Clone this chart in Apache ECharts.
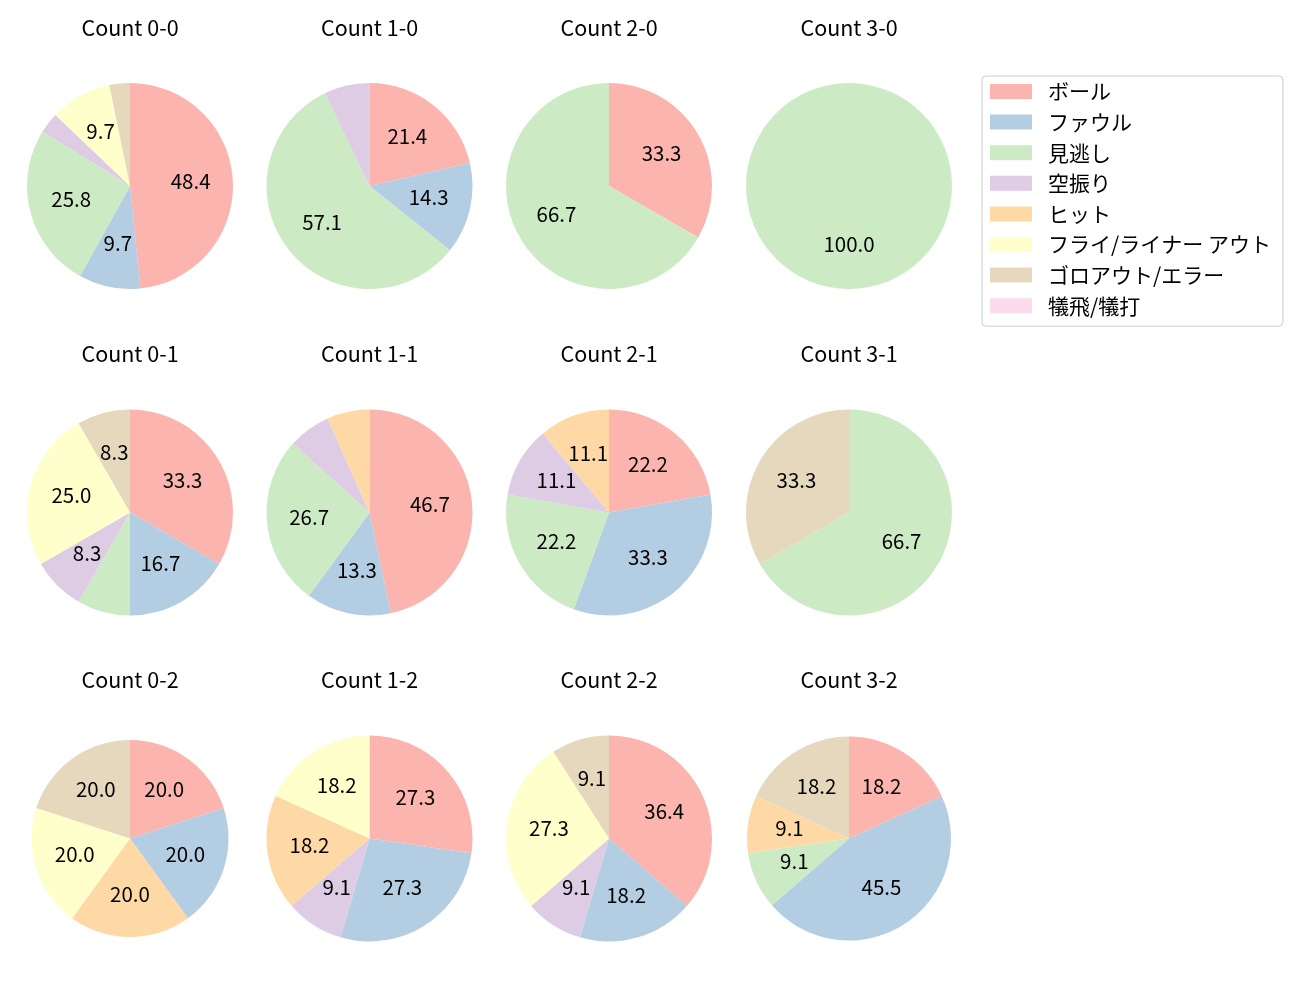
<!DOCTYPE html>
<html>
<head>
<meta charset="utf-8">
<script src="https://cdn.jsdelivr.net/npm/echarts@6/dist/echarts.min.js"></script>
<style>
html,body{margin:0;padding:0;background:#fff;}
#chart{width:1300px;height:1000px;}
</style>
</head>
<body>
<div id="chart"></div>
<script>
// ---- data ----
const categories = ['ボール', 'ファウル', '見逃し', '空振り', 'ヒット', 'フライ/ライナー アウト', 'ゴロアウト/エラー', '犠飛/犠打'];
const panelTitles = ['Count 0-0', 'Count 1-0', 'Count 2-0', 'Count 3-0',
                     'Count 0-1', 'Count 1-1', 'Count 2-1', 'Count 3-1',
                     'Count 0-2', 'Count 1-2', 'Count 2-2', 'Count 3-2'];
const count00 = [15, 3, 8, 1, 0, 3, 1, 0];
const count10 = [3, 2, 8, 1, 0, 0, 0, 0];
const count20 = [1, 0, 2, 0, 0, 0, 0, 0];
const count30 = [0, 0, 1, 0, 0, 0, 0, 0];
const count01 = [4, 2, 1, 1, 0, 3, 1, 0];
const count11 = [7, 2, 4, 1, 1, 0, 0, 0];
const count21 = [2, 3, 2, 1, 1, 0, 0, 0];
const count31 = [0, 0, 2, 0, 0, 0, 1, 0];
const count02 = [1, 1, 0, 0, 1, 1, 1, 0];
const count12 = [3, 3, 0, 1, 2, 2, 0, 0];
const count22 = [4, 2, 0, 1, 0, 3, 1, 0];
const count32 = [2, 5, 1, 0, 1, 0, 2, 0];
const panelValues = [count00, count10, count20, count30, count01, count11, count21, count31, count02, count12, count22, count32];

// ---- layout / style ----
const colors = ['#fbb4ae', '#b3cde3', '#ccebc5', '#decbe4', '#fed9a6', '#ffffcc', '#e5d8bd', '#fddaec'];
const colX = [130, 369.5, 609, 849];
const rowY = [186, 512.5, 838.5];
const radii = [103, 103, 103, 103, 103, 103, 103, 103, 98.5, 103, 103, 102];
const FONT = '"Noto Sans CJK JP", "Noto Sans", sans-serif';

const titles = [];
const series = [];
panelValues.forEach((vals, i) => {
  const cx = colX[i % 4], cy = rowY[Math.floor(i / 4)], r = radii[i];
  const total = vals.reduce((a, b) => a + b, 0);
  const data = vals.map((v, k) => ({ name: categories[k], value: v }));
  titles.push({
    text: panelTitles[i], left: cx, top: cy - 169, textAlign: 'center', padding: 0,
    textStyle: { fontFamily: FONT, fontSize: 21.5, fontWeight: 'normal', color: '#000' }
  });
  series.push({
    type: 'pie', center: [cx, cy], radius: [0, r], startAngle: 90, clockwise: true,
    data: data, label: { show: false }, labelLine: { show: false },
    itemStyle: { borderWidth: 0 }, emphasis: { disabled: true }, animation: false, silent: true
  });
  series.push({
    type: 'pie', center: [cx, cy], radius: [0.12 * r, r], startAngle: 90, clockwise: true,
    data: data, labelLine: { show: false }, emphasis: { disabled: true }, animation: false, silent: true,
    itemStyle: { color: 'rgba(0,0,0,0)', borderWidth: 0 },
    label: {
      show: true, position: 'inside', offset: [0, -2], fontFamily: FONT, fontSize: 20.5, color: '#000',
      formatter: p => { const pct = p.value / total * 100; return pct >= 8 ? pct.toFixed(1) : ''; }
    }
  });
});

const chart = echarts.init(document.getElementById('chart'));
chart.setOption({
  backgroundColor: '#fff',
  color: colors,
  animation: false,
  title: titles,
  legend: {
    data: categories, orient: 'vertical', left: 982, top: 76,
    icon: 'rect', itemWidth: 42, itemHeight: 15, itemGap: 9.6,
    padding: [5, 12, 10, 8],
    backgroundColor: '#fff', borderColor: '#cccccc', borderWidth: 1, borderRadius: 4,
    selectedMode: false,
    textStyle: { fontFamily: FONT, fontSize: 21, color: '#000', padding: [0, 0, 0, 11] }
  },
  series: series
});
</script>
</body>
</html>
